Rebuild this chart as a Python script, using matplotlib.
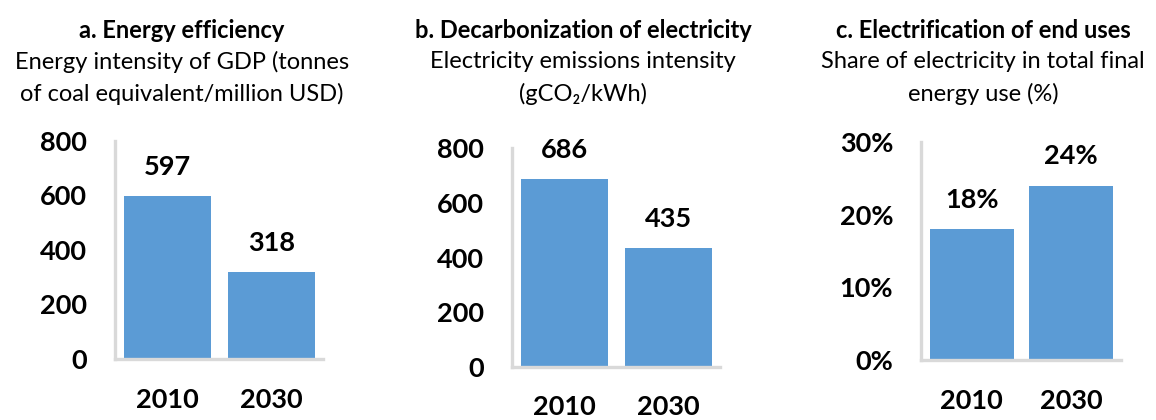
import matplotlib.pyplot as plt

plt.rcParams['font.family'] = ['Lato', 'DejaVu Sans']

years = ["2010", "2030"]

energy_intensity = [597, 318]
emissions_intensity = [686, 435]
electricity_share = [0.18, 0.24]

titles = ["a. Energy efficiency",
          "b. Decarbonization of electricity",
          "c. Electrification of end uses"]
subtitles = [["Energy intensity of GDP (tonnes", "of coal equivalent/million USD)"],
             ["Electricity emissions intensity", "(gCO\u2082/kWh)"],
             ["Share of electricity in total final", "energy use (%)"]]

W, H = 1156, 420
BLUE = "#5B9BD5"
GREY = "#D9D9D9"
NUM_SIZE = 19.5


def px_axes(fig, left, bottom_y, width, top_y):
    # pixel box -> figure fraction
    return fig.add_axes([left / W, (H - bottom_y) / H, width / W, (bottom_y - top_y) / H])


def bar_panel(ax, values, ymax, yticks, ytick_labels, value_labels, year_pad):
    x = range(len(values))
    ax.bar(x, values, width=0.845, color=BLUE)
    ax.set_xlim(-0.51, 1.5)
    ax.set_ylim(0, ymax)
    ax.set_yticks(yticks)
    ax.set_yticklabels(ytick_labels)
    ax.set_xticks(list(x))
    ax.set_xticklabels(years)
    ax.tick_params(axis='y', length=0, pad=20, labelsize=NUM_SIZE)
    ax.tick_params(axis='x', length=0, pad=year_pad, labelsize=NUM_SIZE)
    for lab in ax.get_xticklabels() + ax.get_yticklabels():
        lab.set_fontweight('bold')
    for s in ['top', 'right']:
        ax.spines[s].set_visible(False)
    for s in ['left', 'bottom']:
        ax.spines[s].set_color(GREY)
        ax.spines[s].set_linewidth(2.4)
    for xi, v, lab in zip(x, values, value_labels):
        ax.annotate(lab, (xi, v), xytext=(0, 21), textcoords='offset points',
                    ha='center', va='center', fontsize=NUM_SIZE, fontweight='bold')


fig = plt.figure(figsize=(W / 100, H / 100), dpi=100)

ax_a = px_axes(fig, 115, 359, 208, 141)
bar_panel(ax_a, energy_intensity, 800, [0, 200, 400, 600, 800],
          ["0", "200", "400", "600", "800"],
          [str(v) for v in energy_intensity], 21)

ax_b = px_axes(fig, 512, 367, 208, 148)
bar_panel(ax_b, emissions_intensity, 800, [0, 200, 400, 600, 800],
          ["0", "200", "400", "600", "800"],
          [str(v) for v in emissions_intensity], 20)

ax_c = px_axes(fig, 921, 360, 200, 142)
bar_panel(ax_c, electricity_share, 0.3, [0, 0.1, 0.2, 0.3],
          ["0%", "10%", "20%", "30%"],
          [f"{round(v * 100)}%" for v in electricity_share], 21)

# headings above each panel
for cx, title, sub in zip([182, 583, 983], titles, subtitles):
    fig.text(cx / W, 1 - 31 / H, title, ha='center', va='center',
             fontsize=17, fontweight='bold')
    for line, cy in zip(sub, [62, 94]):
        fig.text(cx / W, 1 - cy / H, line, ha='center', va='center',
                 fontsize=17)

fig.savefig("out.png", dpi=100)
